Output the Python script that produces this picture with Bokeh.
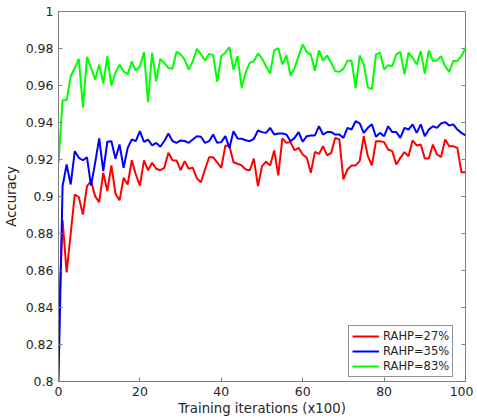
import math
from bokeh.plotting import figure
from bokeh.models import FixedTicker, Legend, LegendItem, Range1d
from bokeh.embed import file_html
from bokeh.resources import INLINE

iterations = list(range(0, 101))

acc_27 = [0.829, 0.8872, 0.859, 0.880, 0.9011, 0.8996, 0.8903, 0.9056, 0.9083, 0.9002,
          0.8969, 0.9128, 0.9029, 0.9168, 0.9014, 0.898, 0.9101, 0.9065, 0.9196, 0.9119,
          0.9059, 0.9195, 0.9142, 0.9182, 0.915, 0.9142, 0.9155, 0.9236, 0.9196, 0.9195,
          0.9142, 0.9191, 0.915, 0.9155, 0.9098, 0.9077, 0.9146, 0.9212, 0.9212, 0.9185,
          0.9155, 0.9276, 0.9272, 0.9185, 0.9177, 0.9168, 0.9146, 0.9142, 0.9205, 0.9056,
          0.9164, 0.9188, 0.9168, 0.9249, 0.9114, 0.9314, 0.929, 0.9294, 0.925, 0.9263,
          0.9227, 0.9209, 0.9128, 0.9241, 0.923, 0.9272, 0.9222, 0.9236, 0.9317, 0.9308,
          0.9092, 0.9146, 0.9168, 0.9168, 0.9191, 0.9326, 0.9218, 0.9168, 0.9299, 0.9299,
          0.9294, 0.9254, 0.9245, 0.9173, 0.9209, 0.924, 0.9218, 0.9303, 0.9276, 0.9281,
          0.9205, 0.9205, 0.9281, 0.9227, 0.9214, 0.9308, 0.9272, 0.9272, 0.9263, 0.9131,
          0.9131]

acc_35 = [0.800, 0.9056, 0.9173, 0.9065, 0.9245, 0.9209, 0.9196, 0.9212, 0.9059, 0.9182,
          0.9314, 0.9137, 0.9296, 0.9299, 0.9204, 0.9281, 0.9155, 0.9263, 0.9308, 0.9299,
          0.9353, 0.9295, 0.9308, 0.9276, 0.929, 0.9269, 0.930, 0.934, 0.930, 0.929,
          0.9303, 0.930, 0.929, 0.9308, 0.9326, 0.9323, 0.929, 0.9299, 0.9335, 0.929,
          0.9294, 0.9326, 0.9263, 0.9353, 0.9314, 0.9312, 0.9304, 0.9299, 0.9312, 0.9357,
          0.9348, 0.9344, 0.9371, 0.9335, 0.934, 0.934, 0.9335, 0.9299, 0.9317, 0.9348,
          0.9296, 0.9326, 0.933, 0.933, 0.938, 0.9335, 0.9348, 0.9348, 0.9335, 0.9335,
          0.9317, 0.9371, 0.9362, 0.9407, 0.9395, 0.9344, 0.9371, 0.939, 0.9323, 0.9344,
          0.9326, 0.938, 0.9348, 0.9348, 0.9317, 0.9371, 0.9362, 0.939, 0.9344, 0.939,
          0.9326, 0.9362, 0.938, 0.9371, 0.9395, 0.9402, 0.9384, 0.939, 0.9362, 0.9344,
          0.9331]

acc_83 = [0.918, 0.952, 0.952, 0.965, 0.9695, 0.9744, 0.948, 0.9755, 0.9695, 0.9632,
          0.9713, 0.961, 0.9758, 0.960, 0.9669, 0.9713, 0.9677, 0.966, 0.973, 0.968,
          0.9704, 0.978, 0.951, 0.9777, 0.9623, 0.9744, 0.9722, 0.9695, 0.969, 0.9782,
          0.9768, 0.974, 0.9686, 0.9731, 0.9798, 0.9768, 0.9735, 0.9771, 0.9764, 0.962,
          0.9759, 0.9777, 0.9807, 0.9686, 0.9759, 0.9588, 0.9672, 0.9722, 0.9731, 0.9773,
          0.9746, 0.9704, 0.9665, 0.979, 0.9802, 0.9714, 0.9762, 0.9654, 0.9695, 0.9759,
          0.9822, 0.978, 0.9768, 0.968, 0.979, 0.9735, 0.9762, 0.9722, 0.9677, 0.9674,
          0.969, 0.9733, 0.9735, 0.9586, 0.9762, 0.9714, 0.959, 0.958, 0.9768, 0.9777,
          0.9686, 0.971, 0.9704, 0.9768, 0.9782, 0.966, 0.9777, 0.975, 0.9714, 0.9786,
          0.9665, 0.979, 0.9733, 0.9735, 0.9759, 0.9704, 0.9674, 0.9733, 0.9733, 0.9759,
          0.9804]

series_labels = ["RAHP=27%", "RAHP=35%", "RAHP=83%"]
series_colors = ["#ff0000", "#0000ff", "#00ff00"]

x_min, x_max = 0, 100
y_min, y_max = 0.8, 1.0
x_ticks = [0, 20, 40, 60, 80, 100]
y_ticks = [0.8, 0.82, 0.84, 0.86, 0.88, 0.9, 0.92, 0.94, 0.96, 0.98, 1.0]
y_tick_labels = ["0.8", "0.82", "0.84", "0.86", "0.88", "0.9", "0.92", "0.94", "0.96", "0.98", "1"]

FONT = "DejaVu Sans"
TEXT = "#262626"
AXC = "#808080"

p = figure(frame_width=407, frame_height=370,
           x_range=Range1d(x_min, x_max), y_range=Range1d(y_min, y_max),
           output_backend="svg", toolbar_location=None,
           min_border_left=50, min_border_top=11, min_border_right=8, min_border_bottom=4,
           background_fill_color="white", border_fill_color="white")
p.grid.visible = False
p.outline_line_color = AXC
p.outline_line_width = 1

for ax in (p.xaxis[0], p.yaxis[0]):
    ax.major_tick_in = 4
    ax.major_tick_out = 0
    ax.minor_tick_line_color = None
    ax.axis_line_color = AXC
    ax.major_tick_line_color = AXC
    ax.major_label_text_font = FONT
    ax.major_label_text_font_size = "12.5px"
    ax.major_label_text_color = TEXT
    ax.axis_label_text_font = FONT
    ax.axis_label_text_font_size = "13.3px"
    ax.axis_label_text_font_style = "normal"
    ax.axis_label_text_color = TEXT

p.xaxis.ticker = FixedTicker(ticks=x_ticks)
p.yaxis.ticker = FixedTicker(ticks=y_ticks)
p.yaxis.major_label_overrides = dict(zip(y_ticks, y_tick_labels))
p.xaxis.axis_label = "Training iterations (x100)"
p.yaxis.axis_label = "Accuracy"
p.xaxis.major_label_standoff = 5
p.xaxis.axis_label_standoff = 2
p.yaxis.major_label_standoff = 5
p.yaxis.axis_label_standoff = 4

# inward tick marks on the right edge of the box (MATLAB style)
p.ray(x=[x_max] * len(y_ticks), y=y_ticks, length=4, length_units="screen",
      angle=math.pi, line_color=AXC, line_width=1)

renderers = []
for ys, col in zip([acc_27, acc_35, acc_83], series_colors):
    r = p.line(iterations, ys, line_color=col, line_width=2)
    renderers.append(r)

legend = Legend(items=[LegendItem(label=l, renderers=[r]) for l, r in zip(series_labels, renderers)],
                location=(290, 4), label_text_font=FONT, label_text_font_size="11.5px",
                label_text_color=TEXT, glyph_width=27, glyph_height=14, label_height=14,
                spacing=1, padding=3, margin=0, label_standoff=4,
                border_line_color=TEXT, border_line_width=1, background_fill_color="white",
                background_fill_alpha=1)
p.add_layout(legend)

open("out.html", "w").write(file_html(p, INLINE))
